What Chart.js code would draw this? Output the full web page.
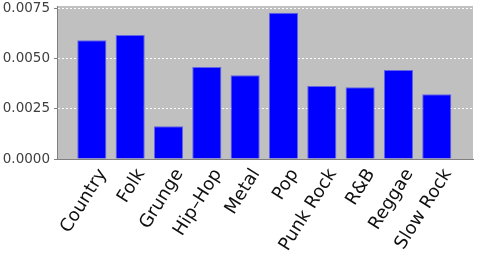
<!DOCTYPE html>
<html>
<head>
<meta charset="utf-8">
<script src="https://cdn.jsdelivr.net/npm/chart.js@4/dist/chart.umd.min.js"></script>
<style>
  html, body { margin: 0; padding: 0; background: #fff; }
</style>
</head>
<body>
<canvas id="chart" width="480" height="270"></canvas>
<script>
const genres = ["Country", "Folk", "Grunge", "Hip–Hop", "Metal", "Pop", "Punk Rock", "R&B", "Reggae", "Slow Rock"];
const shares = [0.0059, 0.00616, 0.00163, 0.00457, 0.00416, 0.00726, 0.00363, 0.00356, 0.00442, 0.00322];
const yTicks = [0, 0.0025, 0.005, 0.0075];

Chart.defaults.font.family = "'DejaVu Sans', sans-serif";
Chart.defaults.color = "#404040";

const plotBg = {
    id: "plotBg",
    beforeDraw(chart) {
        const a = chart.chartArea;
        const c = chart.ctx;
        c.save();
        c.fillStyle = "#c0c0c0";
        c.fillRect(a.left, a.top, a.right - a.left, a.bottom - a.top);
        c.restore();
    }
};

window.onload = () => {
    const ctx = document.getElementById("chart");
    new Chart(ctx, {
        type: "bar",
        data: {
            datasets: [{
                data: genres.map((g, i) => ({ x: i, y: shares[i] })),
                backgroundColor: "#0000ff",
                borderColor: "#6464e6",
                borderWidth: 1,
                categoryPercentage: 1,
                barPercentage: 0.76
            }]
        },
        options: {
            responsive: false,
            animation: false,
            layout: { padding: { top: 6, right: 7, left: 0, bottom: 0 } },
            plugins: { legend: { display: false }, tooltip: { enabled: false } },
            scales: {
                x: {
                    type: "linear",
                    offset: false,
                    min: -0.909,
                    max: 9.945,
                    afterBuildTicks: s => { s.ticks = genres.map((g, i) => ({ value: i })); },
                    afterFit: s => { s.height = 111; s.paddingLeft = 0; s.paddingRight = 0; },
                    grid: { display: false },
                    border: { color: "#808080" },
                    ticks: {
                        autoSkip: false,
                        minRotation: 58,
                        maxRotation: 58,
                        padding: -2,
                        labelOffset: 11,
                        color: "#101010",
                        font: { size: 18 },
                        callback: v => genres[v] ?? ""
                    }
                },
                y: {
                    min: 0,
                    max: 0.0076,
                    afterBuildTicks: s => { s.ticks = yTicks.map(v => ({ value: v })); },
                    afterFit: s => { s.width = 57; s.paddingTop = 0; s.paddingBottom = 0; },
                    grid: {
                        color: "#ffffff",
                        tickColor: "#808080",
                        tickLength: 3
                    },
                    border: { color: "#808080", dash: [2, 2] },
                    ticks: {
                        padding: 4,
                        font: { size: 13.5 },
                        callback: v => v.toFixed(4)
                    }
                }
            }
        },
        plugins: [plotBg]
    });
};
</script>
</body>
</html>
